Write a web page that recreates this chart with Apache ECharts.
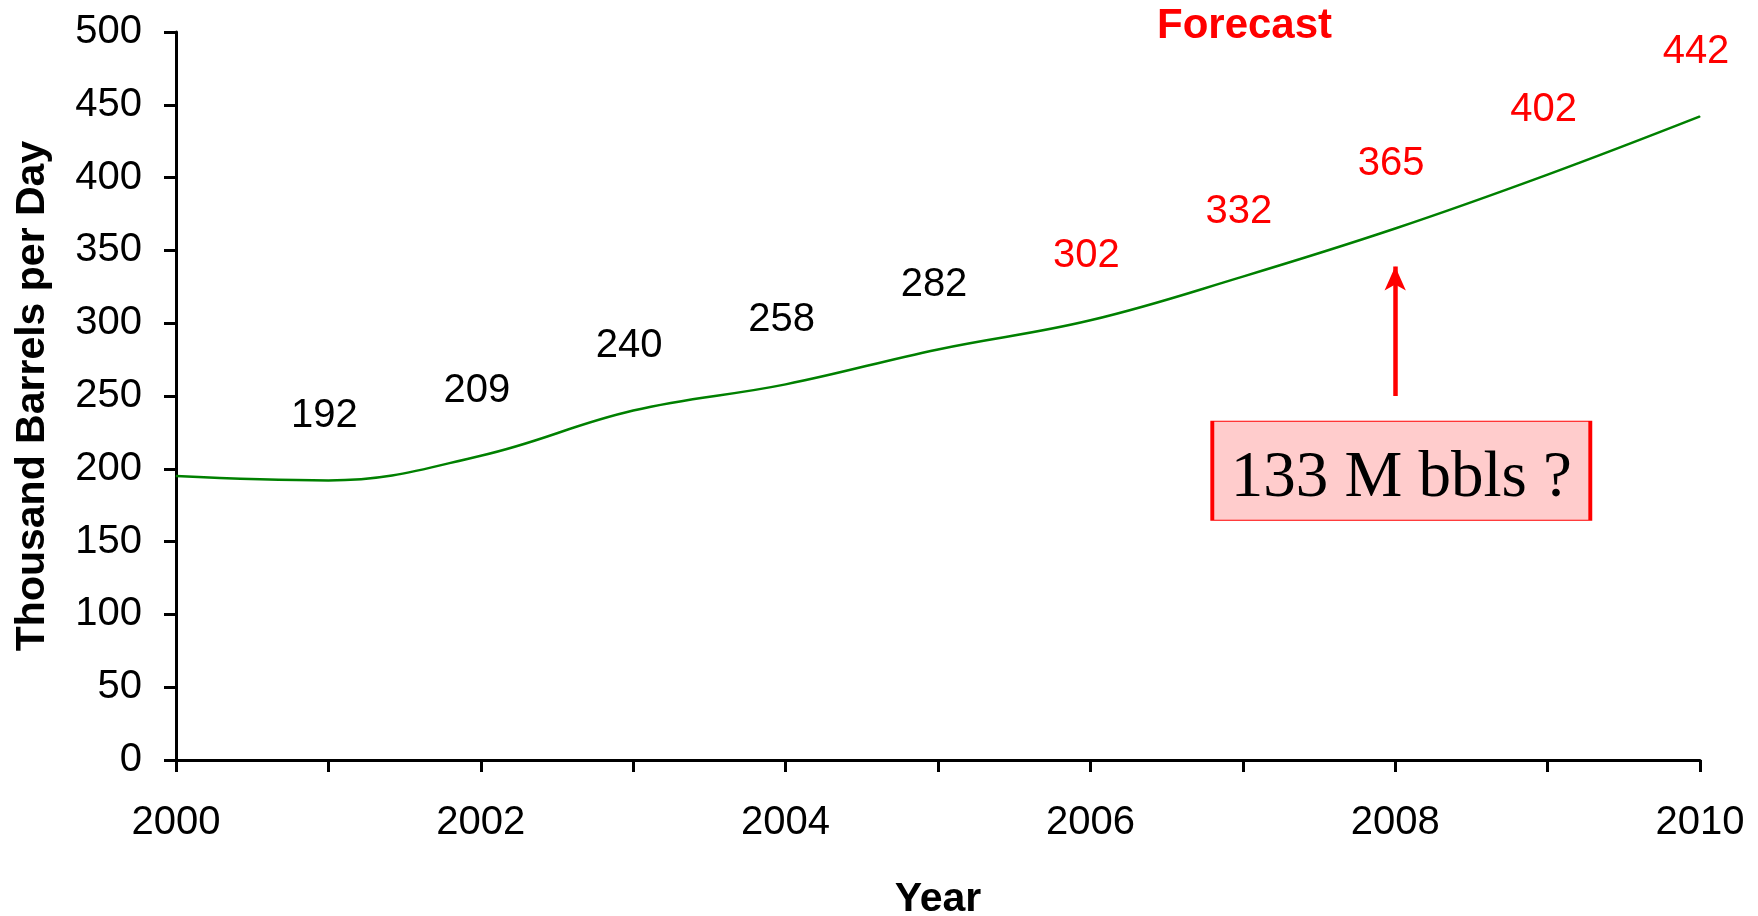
<!DOCTYPE html>
<html>
<head>
<meta charset="utf-8">
<script src="https://cdn.jsdelivr.net/npm/echarts@6/dist/echarts.min.js"></script>
<style>
html,body{margin:0;padding:0;background:#fff;}
#chart{width:1758px;height:916px;}
</style>
</head>
<body>
<div id="chart"></div>
<script>
// ---- data ----
const years = [2000, 2001, 2002, 2003, 2004, 2005, 2006, 2007, 2008, 2009, 2010];
const values = [195, 192, 209, 240, 258, 282, 302, 332, 365, 402, 442];
const labeledFrom = 2001;      // first year with a value label
const forecastFrom = 2006;     // labels from this year are red (forecast)
const xTickLabels = ['2000', '2002', '2004', '2006', '2008', '2010'];
const yTicks = [0, 50, 100, 150, 200, 250, 300, 350, 400, 450, 500];
const arrowFrom = [2008, 250];
const arrowTo = [2008, 339];
const noteAt = [2008.04, 198.7];
const noteText = '133 M bbls ?';
const titleText = 'Forecast';
const yTitle = 'Thousand Barrels per Day';
const xTitle = 'Year';

const chart = echarts.init(document.getElementById('chart'), null, {renderer: 'canvas'});

const seriesData = years.map((y, i) => ({
  value: [y, values[i]],
  label: {
    show: y >= labeledFrom,
    color: y >= forecastFrom ? '#FF0000' : '#000000'
  }
}));

const option = {
  backgroundColor: '#ffffff',
  animation: false,
  title: {
    text: titleText,
    left: 1157,
    top: 5,
    padding: 0,
    textStyle: {color: '#FF0000', fontWeight: 'bold', fontSize: 42, fontFamily: 'Liberation Sans'}
  },
  grid: {left: 176, right: 58, top: 32, bottom: 156, containLabel: false, outerBoundsMode: 'none'},
  xAxis: {
    type: 'value',
    min: 2000, max: 2010, interval: 1,
    name: xTitle,
    nameLocation: 'middle',
    nameGap: 119,
    nameTextStyle: {color: '#000', fontWeight: 'bold', fontSize: 41, fontFamily: 'Liberation Sans'},
    axisLine: {show: true, onZero: false, lineStyle: {color: '#000', width: 3}},
    axisTick: {show: true, inside: false, length: 12, lineStyle: {color: '#000', width: 3}},
    axisLabel: {
      show: true, margin: 43, color: '#000', fontSize: 40, fontFamily: 'Liberation Sans',
      formatter: v => xTickLabels.indexOf(String(v)) >= 0 ? String(v) : ''
    },
    splitLine: {show: false}
  },
  yAxis: {
    type: 'value',
    min: yTicks[0], max: yTicks[yTicks.length - 1], interval: yTicks[1] - yTicks[0],
    name: yTitle,
    nameLocation: 'middle',
    nameGap: 123,
    nameTextStyle: {color: '#000', fontWeight: 'bold', fontSize: 41, fontFamily: 'Liberation Sans'},
    axisLine: {show: true, lineStyle: {color: '#000', width: 3}},
    axisTick: {show: true, inside: false, length: 12, lineStyle: {color: '#000', width: 3}},
    axisLabel: {show: true, margin: 34, color: '#000', fontSize: 40, fontFamily: 'Liberation Sans'},
    splitLine: {show: false}
  },
  series: [{
    type: 'line',
    data: seriesData,
    smooth: 0.4,
    symbol: 'circle',
    symbolSize: 1,
    showSymbol: true,
    itemStyle: {color: '#008000'},
    lineStyle: {color: '#008000', width: 2.5},
    label: {
      show: true,
      position: 'top',
      distance: 44,
      offset: [-4, 0],
      fontSize: 40,
      lineHeight: 40,
      fontFamily: 'Liberation Sans',
      formatter: p => String(p.value[1])
    },
    markLine: {
      silent: true,
      symbol: ['none', 'arrow'],
      symbolSize: [16, 24],
      label: {show: false},
      lineStyle: {color: '#FF0000', width: 4.5, type: 'solid'},
      data: [[{coord: arrowFrom}, {coord: arrowTo}]]
    },
    markPoint: {
      silent: true,
      symbol: 'rect',
      symbolSize: [378, 99],
      itemStyle: {color: '#FFCCCC', borderColor: '#FF0000', borderWidth: 2},
      label: {
        show: true, position: 'inside', color: '#000',
        fontFamily: 'Liberation Serif', fontSize: 65,
        offset: [0, 8],
        formatter: noteText
      },
      data: [{coord: noteAt}]
    }
  }]
};
chart.setOption(option);
</script>
</body>
</html>
